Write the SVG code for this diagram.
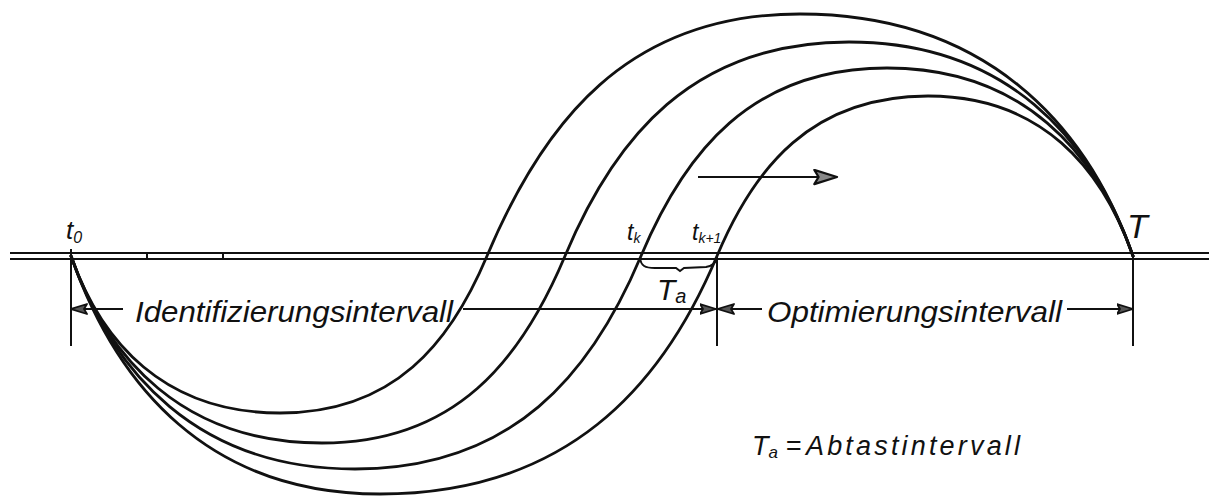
<svg xmlns="http://www.w3.org/2000/svg" width="1209" height="496" viewBox="0 0 1209 496">
<style>
.ln{fill:none;stroke:#111;stroke-width:2}
.cv{fill:none;stroke:#111;stroke-width:2.8;stroke-linecap:round}
.tx{font-family:"Liberation Sans","DejaVu Sans",sans-serif;font-style:italic;fill:#111}
</style>
<defs>
<marker id="ah" viewBox="0 0 16 12" refX="16" refY="6" markerWidth="17" markerHeight="12" markerUnits="userSpaceOnUse" orient="auto-start-reverse">
<path d="M0,1 L16,6 L0,11 L3,6 Z" fill="#555" stroke="#111" stroke-width="1.8" stroke-linejoin="round"/>
</marker>
<marker id="ahBig" viewBox="0 0 16 12" refX="16" refY="6" markerWidth="27" markerHeight="17" markerUnits="userSpaceOnUse" orient="auto">
<path d="M0,1 L16,6 L0,11 L3,6 Z" fill="#888" stroke="#111" stroke-width="1.6" stroke-linejoin="round"/>
</marker>
</defs>
<rect width="1209" height="496" fill="#fff"/>
<g id="axis">
<line class="ln" x1="10" y1="253" x2="1209" y2="253"/>
<line class="ln" x1="10" y1="259" x2="1209" y2="259"/>
<line class="ln" x1="147" y1="252" x2="147" y2="259" stroke-width="1.5"/>
<line class="ln" x1="223" y1="252" x2="223" y2="259" stroke-width="1.5"/>
</g>
<g id="curves">
<path class="cv" d="M71,256 C101.3,342.7 164.6,413 280,413 C394.3,413 450.6,342.7 487,256 C543.2,122.3 627.1,14 800,14 C983.9,14 1086.2,122.3 1133,256"/>
<path class="cv" d="M71,256 C107.2,359.3 183.4,443 322,443 C456.2,443 521.6,359.3 565,256 C614.6,137.8 692.1,42 849,42 C1005.9,42 1091.6,137.8 1133,256"/>
<path class="cv" d="M71,256 C112.2,373.6 198.1,469 355,469 C513,469 591.6,373.6 641,256 C684.6,152.2 751.1,68 887,68 C1022.9,68 1096.7,152.2 1133,256"/>
<path class="cv" d="M71,256 C117,387.4 209.3,494 380,494 C566.1,494 661.8,387.4 717,256 C754.1,167.6 811.5,96 928,96 C1041.2,96 1102.1,167.6 1133,256"/>
</g>
<g id="connectors">
<line class="ln" x1="71" y1="249" x2="71" y2="346"/>
<line class="ln" x1="717" y1="256" x2="717" y2="346"/>
<line class="ln" x1="1133" y1="252" x2="1133" y2="346"/>
<line class="ln" x1="71" y1="309" x2="123" y2="309" marker-start="url(#ah)"/>
<line class="ln" x1="463" y1="309" x2="716" y2="309" marker-end="url(#ah)"/>
<line class="ln" x1="718" y1="309" x2="762" y2="309" marker-start="url(#ah)"/>
<line class="ln" x1="1067" y1="309" x2="1133" y2="309" marker-end="url(#ah)"/>
<line class="ln" x1="698" y1="177" x2="837" y2="177" marker-end="url(#ahBig)"/>
<path class="ln" d="M640,258 C641,266 645,268 655,268 L676,268 L680,271 L684,268 L706,267 C713,266 716,262 717,258"/>
</g>
<g id="label-t0"><text class="tx" x="66" y="239" font-size="26">t<tspan font-size="16" dy="4">0</tspan></text></g>
<g id="label-tk"><text class="tx" x="627" y="240" font-size="23">t<tspan font-size="14" dy="3">k</tspan></text></g>
<g id="label-tk1"><text class="tx" x="692" y="240" font-size="23">t<tspan font-size="14" dy="3">k+1</tspan></text></g>
<g id="label-T"><text class="tx" x="1127" y="238" font-size="34">T</text></g>
<g id="label-Ta"><text class="tx" x="657" y="300" font-size="30">T<tspan font-size="20" dy="3">a</tspan></text></g>
<g id="label-ident"><text class="tx" x="135" y="322" font-size="29" textLength="318" lengthAdjust="spacingAndGlyphs">Identifizierungsintervall</text></g>
<g id="label-opt"><text class="tx" x="767" y="322" font-size="29" textLength="295" lengthAdjust="spacingAndGlyphs">Optimierungsintervall</text></g>
<g id="legend"><text class="tx" x="752" y="455" font-size="27">T<tspan font-size="17" dy="3">a</tspan><tspan dy="-3"> =</tspan></text><text class="tx" x="806" y="455" font-size="27" textLength="214" lengthAdjust="spacing">Abtastintervall</text></g>
</svg>
